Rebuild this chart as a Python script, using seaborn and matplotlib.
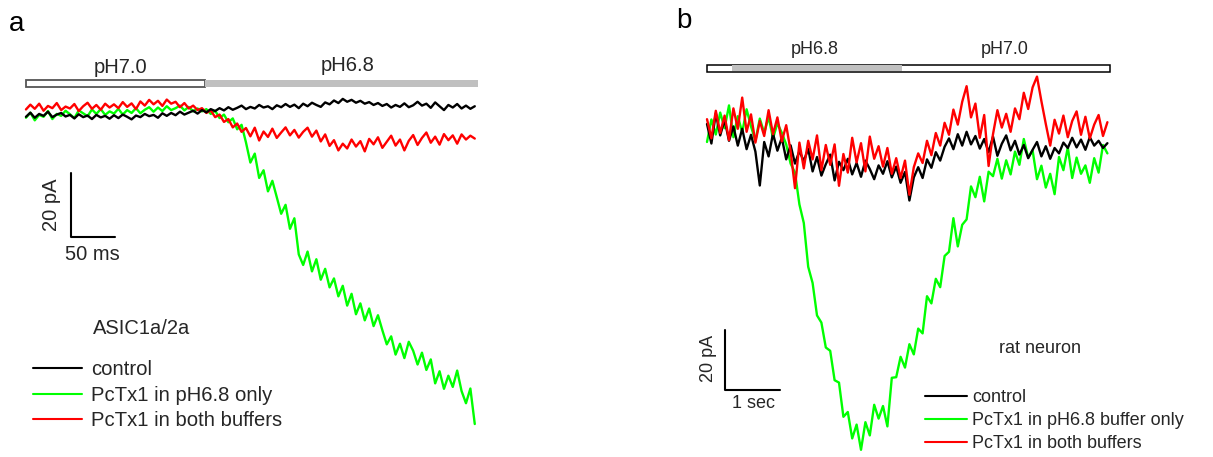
import matplotlib
matplotlib.use('Agg')
import matplotlib.pyplot as plt
from matplotlib.patches import Rectangle
import numpy as np
import pandas as pd
import seaborn as sns

sns.set_style('white')
plt.rcParams['font.family'] = ['Liberation Sans', 'DejaVu Sans']
textcolor = '#262626'

conditions_a = ['control', 'PcTx1 in pH6.8 only', 'PcTx1 in both buffers']
conditions_b = ['control', 'PcTx1 in pH6.8 buffer only', 'PcTx1 in both buffers']
colors = ['#000000', '#00ff00', '#ff0000']

# panel a: ASIC1a/2a, sampled every 5 ms (pA)
dt_a = 5
switch_a = 203  # ms, pH7.0 -> pH6.8
end_a = 514
control_a = [
    -1.5, -0.2, -1.8, -0.6, -1.2, 0.1, -1.6, -0.8, -0.3, -1.4,
    -0.9, -2.0, -0.7, -1.6, -1.1, -2.2, -0.9, -1.7, -1.2, -2.1,
    -1.0, -1.9, -0.8, -1.5, -2.3, -1.1, -1.6, -0.6, -1.3, -0.9,
    -1.8, -0.4, -1.2, -0.3, -1.0, 0.1, -0.8, -0.2, 0.4, -0.5,
    0.6, -0.1, 0.9, 0.3, 1.2, 0.5, 1.5, 0.7, 1.3, 2.0,
    0.9, 1.6, 1.1, 2.2, 1.4, 1.8, 0.9, 2.1, 1.5, 2.5,
    1.6, 2.3, 1.2, 2.6, 1.8, 2.9, 2.2, 1.6, 3.0, 2.4,
    3.6, 2.8, 4.1, 3.2, 3.8, 2.9, 3.5, 2.6, 3.1, 2.2,
    2.8, 1.9, 2.5, 1.4, 2.2, 1.6, 2.7, 1.5, 2.1, 3.2,
    2.0, 2.6, 1.3, 3.0, 1.8, 0.6, 2.2, 1.4, 2.5, 1.1,
    2.0, 1.0, 1.8,
]
pctx_acid_a = [
    -1.8, -0.2, -2.6, -0.9, -1.5, 0.3, -2.2, -0.6, -1.2, 0.4,
    -0.7, -1.9, 0.5, -0.4, -1.3, 0.8, -0.6, 0.9, -0.9, 0.2,
    -0.5, 1.0, -0.8, 0.6, -0.3, 1.2, -0.4, 0.7, 1.5, 0.1,
    1.4, 0.3, 1.8, 0.6, 1.2, 2.0, 0.5, 1.6, 0.2, 1.1,
    0.2, 0.9, -0.6, 0.4, -1.9, -0.8, -3.2, -2.0, -5.4, -4.0,
    -9.5, -15.8, -13.0, -20.6, -18.2, -24.8, -21.5, -26.6, -31.8, -29.0,
    -36.5, -33.2, -44.5, -47.8, -43.6, -49.8, -46.0, -52.4, -49.0, -54.8,
    -52.0, -57.6, -54.3, -60.5, -56.8, -63.2, -59.8, -65.1, -61.4, -66.9,
    -63.5, -68.2, -72.6, -70.1, -75.8, -72.4, -76.9, -71.8, -74.6, -78.9,
    -75.2, -80.6, -77.3, -84.8, -81.0, -86.5, -82.4, -85.9, -80.8, -87.2,
    -91.0, -86.4, -97.5,
]
pctx_both_a = [
    0.8, 2.3, 1.0, 2.6, 0.4, 1.9, 1.2, 2.8, 0.6, 1.7,
    1.1, 2.5, 0.3, 1.8, 2.9, 1.0, 2.2, 0.7, 2.6, 1.4,
    2.4, 1.2, 3.1, 1.6, 2.7, 0.9, 3.3, 2.0, 3.8, 2.4,
    3.5, 1.9, 3.9, 2.6, 3.2, 1.5, 2.8, 1.1, 2.0, 0.6,
    1.2, -0.3, 0.5, -1.6, -0.8, -3.1, -2.2, -4.8, -3.6, -6.2,
    -5.0, -7.6, -4.9, -8.9, -6.1, -7.8, -5.2, -8.1, -6.4, -4.8,
    -7.3, -5.6, -8.0, -6.2, -4.9, -7.7, -5.8, -9.2, -7.0, -10.6,
    -8.8, -12.0, -9.9, -11.4, -8.6, -10.8, -9.1, -12.3, -8.4, -10.1,
    -7.9, -11.2, -9.3, -7.4, -10.5, -8.6, -12.0, -9.0, -7.2, -10.3,
    -8.1, -6.4, -9.6, -7.7, -10.2, -6.9, -8.8, -7.3, -9.9, -7.0,
    -8.6, -7.4, -8.3,
]

# panel b: rat neuron, sampled every 0.08 s (pA)
dt_b = 0.08
acid_b = (0.45, 3.55)  # s, pH6.8 window
end_b = 7.33
control_b = [
    2.0, -4.5, 5.6, -1.8, 3.4, -3.6, 1.2, -5.2, 0.4, -6.4,
    -1.6, -7.2, -18.5, -4.0, -8.8, -1.2, -6.9, -2.6, -9.8, -5.1,
    -11.2, -7.0, -10.4, -6.2, -13.8, -9.0, -15.2, -11.4, -8.2, -16.8,
    -10.6, -13.4, -9.6, -14.8, -11.0, -15.6, -10.2, -13.0, -16.4, -11.8,
    -14.6, -10.4, -15.8, -12.2, -17.6, -14.0, -23.5, -15.8, -12.4, -16.0,
    -9.8, -12.6, -7.4, -10.2, -5.6, -2.8, -6.4, -1.4, -5.2, -0.6,
    -4.8, -2.0, -6.2, -3.0, -7.4, -2.2, -8.6, -4.6, -1.8, -6.8,
    -3.6, -8.2, -5.0, -9.4, -6.6, -4.0, -8.8, -5.4, -9.6, -6.0,
    -7.8, -4.2, -6.0, -2.6, -5.8, -3.2, -6.6, -2.4, -5.2, -3.6,
    -6.0, -4.4,
]
pctx_acid_b = [
    -4.0, 3.5, -1.5, 5.8, 0.6, 8.2, -2.4, 4.6, -0.8, 6.9,
    1.2, -3.6, 3.8, -1.0, 4.4, -2.8, 2.2, -0.9, -4.8, -11.2,
    -14.2, -24.8, -31.0, -45.6, -51.0, -61.8, -64.2, -72.5, -73.6, -83.4,
    -84.2, -95.6, -94.0, -102.8, -98.2, -106.6, -97.4, -101.8, -91.6, -96.2,
    -92.0, -98.8, -82.6, -82.4, -75.6, -79.2, -71.4, -74.8, -66.2, -67.8,
    -55.4, -57.8, -49.6, -52.4, -42.0, -40.6, -29.4, -38.8, -31.6, -29.8,
    -18.8, -22.4, -15.6, -23.8, -13.9, -15.4, -9.6, -16.2, -10.1, -14.8,
    -7.2, -11.6, -3.0, -9.2, -6.8, -16.4, -11.9, -19.2, -14.6, -21.4,
    -9.0, -13.4, -5.8, -16.0, -9.2, -14.6, -11.8, -17.6, -9.4, -14.2,
    -5.0, -7.8,
]
pctx_both_b = [
    3.6, -2.8, 6.4, -1.0, 4.8, -3.4, 7.2, 0.4, 10.8, -0.6,
    5.2, -4.2, 3.0, -2.0, 6.6, -1.4, 4.2, -3.8, 1.6, -7.0,
    -19.4, -4.2, -12.8, -3.6, -9.8, -1.8, -13.4, -5.0, -11.6, -4.8,
    -18.6, -8.0, -14.2, -2.6, -10.8, -4.4, -13.8, -2.2, -9.6, -5.4,
    -12.2, -6.0, -14.6, -9.4, -16.0, -10.2, -21.6, -12.4, -7.8, -11.0,
    -3.6, -8.4, -1.0, -5.2, 2.4, -1.6, 6.8, 1.8, 9.4, 14.6,
    4.2, 8.8, -2.6, 5.0, -12.0, -1.4, 6.6, 0.8, 5.4, -0.6,
    7.2, 3.6, 12.4, 7.0, 14.2, 17.8, 9.6, 2.0, -5.2, 3.4,
    -1.2, 4.8, -2.4, 3.0, 6.2, -1.6, 4.4, -2.8, 1.8, 5.0,
    -2.0, 2.6,
]


def to_frame(traces, labels, dt):
    rows = []
    for vals, lab in zip(traces, labels):
        t = np.arange(len(vals)) * dt
        rows.append(pd.DataFrame({'time': t, 'current': vals, 'condition': lab}))
    return pd.concat(rows, ignore_index=True)


df_a = to_frame([control_a, pctx_acid_a, pctx_both_a], conditions_a, dt_a)
df_b = to_frame([control_b, pctx_acid_b, pctx_both_b], conditions_b, dt_b)

W, H = 1213, 457
fig = plt.figure(figsize=(W / 100, H / 100), dpi=100, facecolor='white')
ax_a = fig.add_axes([0, 0, 600 / W, 1])
ax_b = fig.add_axes([600 / W, 0, 613 / W, 1])


def draw_traces(ax, df, labels, order, lw):
    handles = {}
    for i in order:
        sub = df[df.condition == labels[i]]
        sns.lineplot(data=sub, x='time', y='current', color=colors[i],
                     linewidth=lw, estimator=None, sort=False,
                     label=labels[i], ax=ax)
        handles[labels[i]] = ax.get_lines()[-1]
    return [handles[l] for l in labels]


# ---- panel a
h_a = draw_traces(ax_a, df_a, conditions_a, [1, 2, 0], 1.7)
ax_a.set_xlim(-29.5, 652.3)
ax_a.set_ylim(-107.8, 35)
ax_a.add_patch(Rectangle((0, 7.8), switch_a, 2.2, facecolor='white',
                         edgecolor='#555555', linewidth=1.3))
ax_a.add_patch(Rectangle((switch_a, 7.8), end_a - switch_a, 2.2,
                         facecolor='#c0c0c0', edgecolor='none'))
ax_a.text(107, 13.8, 'pH7.0', ha='center', va='center', fontsize=14.5, color=textcolor)
ax_a.text(366, 14.4, 'pH6.8', ha='center', va='center', fontsize=14.5, color=textcolor)
ax_a.plot([51, 51, 101], [-19.1, -39.1, -39.1], color='black', linewidth=1.5)
ax_a.text(29.5, -29, '20 pA', rotation=90, ha='center', va='center', fontsize=14.5, color=textcolor)
ax_a.text(76, -44.6, '50 ms', ha='center', va='center', fontsize=14.5, color=textcolor)
ax_a.text(131, -67.5, 'ASIC1a/2a', ha='center', va='center', fontsize=14.5, color=textcolor)
leg_a = ax_a.legend(h_a, conditions_a, loc='upper left', frameon=False,
                    bbox_to_anchor=(33 / W, 1 - 360 / H), bbox_transform=fig.transFigure,
                    fontsize=14.6, handlelength=2.4, handletextpad=0.45, labelspacing=0.33,
                    borderpad=0, borderaxespad=0, labelcolor=textcolor)
for line in leg_a.get_lines():
    line.set_linewidth(1.5)

# ---- panel b
h_b = draw_traces(ax_b, df_b, conditions_b, [1, 0, 2], 1.7)
ax_b.set_xlim(-1.9455, 9.2)
ax_b.set_ylim(-109, 43.33)
ax_b.add_patch(Rectangle((0, 19.3), end_b, 2.4, facecolor='white',
                         edgecolor='black', linewidth=1.1))
ax_b.add_patch(Rectangle((acid_b[0], 19.5), acid_b[1] - acid_b[0], 2.0,
                         facecolor='#c0c0c0', edgecolor='none'))
ax_b.text(1.96, 26.7, 'pH6.8', ha='center', va='center', fontsize=13, color=textcolor)
ax_b.text(5.42, 26.7, 'pH7.0', ha='center', va='center', fontsize=13, color=textcolor)
ax_b.plot([0.327, 0.327, 1.327], [-66.7, -86.7, -86.7], color='black', linewidth=1.5)
ax_b.text(0.02, -76, '20 pA', rotation=90, ha='center', va='center', fontsize=13, color=textcolor)
ax_b.text(0.84, -91.3, '1 sec', ha='center', va='center', fontsize=13, color=textcolor)
ax_b.text(6.05, -72.7, 'rat neuron', ha='center', va='center', fontsize=13, color=textcolor)
leg_b = ax_b.legend(h_b, conditions_b, loc='upper left', frameon=False,
                    bbox_to_anchor=(925 / W, 1 - 389 / H), bbox_transform=fig.transFigure,
                    fontsize=13, handlelength=2.35, handletextpad=0.28, labelspacing=0.33,
                    borderpad=0, borderaxespad=0, labelcolor=textcolor)
for line in leg_b.get_lines():
    line.set_linewidth(1.5)

for ax in (ax_a, ax_b):
    ax.set_axis_off()

fig.text(17 / W, 1 - 24 / H, 'a', ha='center', va='center', fontsize=20, color='black')
fig.text(684 / W, 1 - 21 / H, 'b', ha='center', va='center', fontsize=20, color='black')

fig.savefig('out.png', dpi=100, facecolor='white')
plt.close(fig)
